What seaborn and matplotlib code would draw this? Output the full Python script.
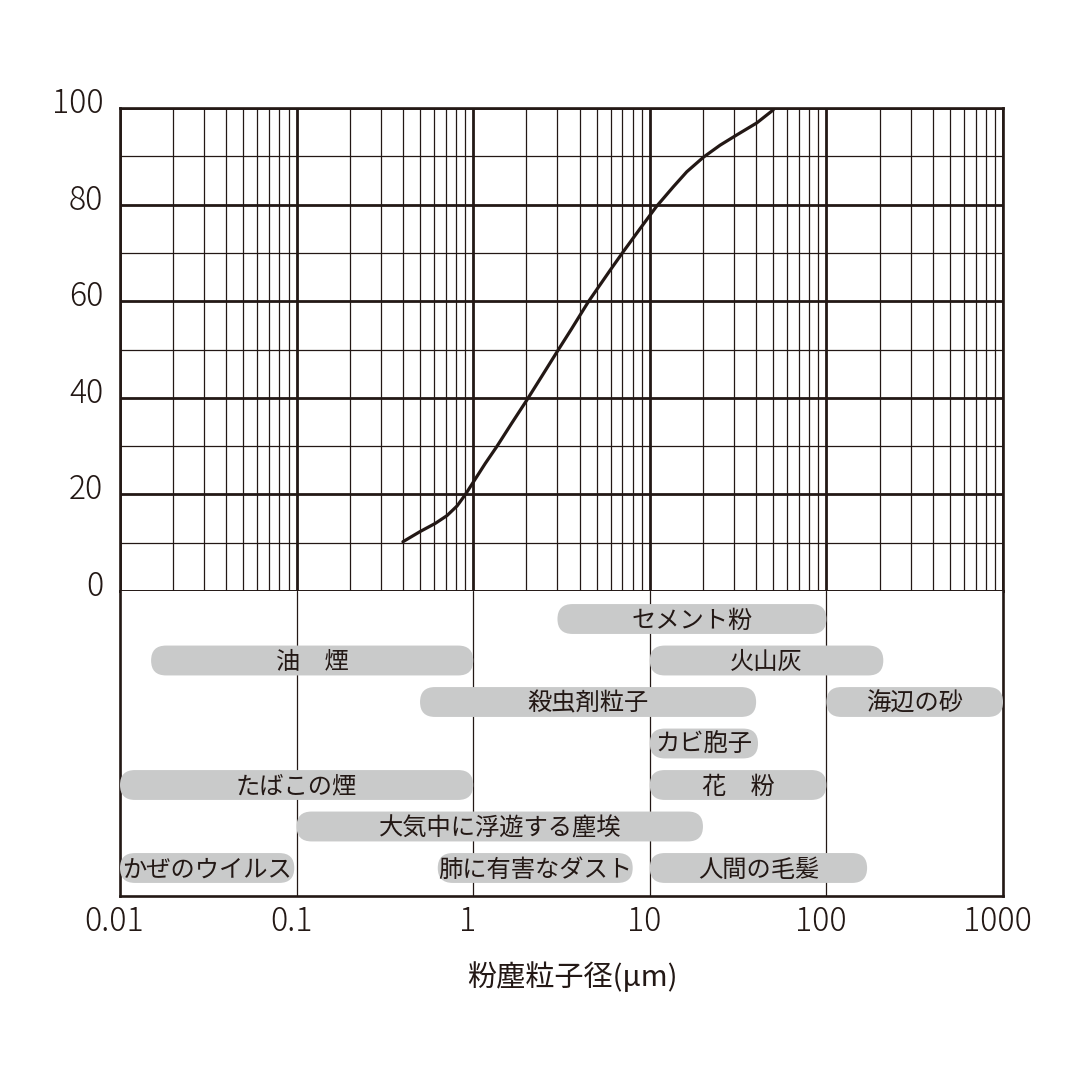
import numpy as np
import pandas as pd
import matplotlib
matplotlib.use('Agg')
import matplotlib.pyplot as plt
import seaborn as sns
from matplotlib.patches import FancyBboxPatch
from matplotlib.transforms import IdentityTransform, ScaledTranslation
from matplotlib.ticker import LogLocator, MultipleLocator, FixedLocator, NullFormatter

# ---- data ----
curve_size = [0.40, 0.50, 0.61, 0.71, 0.81, 0.90, 1.02, 1.17, 1.36, 1.65, 2.01,
              2.44, 3.04, 3.61, 4.49, 5.96, 7.09, 8.80, 10.9, 13.6, 16.2, 20.1,
              25.0, 31.0, 40.3, 50.0]
curve_pct = [10.2, 12.3, 14.0, 15.6, 17.6, 19.9, 23.0, 26.4, 29.9, 34.7, 39.5,
             44.4, 50.0, 54.3, 59.9, 66.4, 70.3, 75.0, 79.6, 83.7, 86.8, 89.8,
             92.3, 94.4, 96.9, 99.6]

bar_labels = ['セメント粉', '油　煙', '火山灰', '殺虫剤粒子', '海辺の砂', 'カビ胞子',
              'たばこの煙', '花　粉', '大気中に浮遊する塵埃', 'かぜのウイルス',
              '肺に有害なダスト', '人間の毛髪']
bar_start = [3, 0.015, 10, 0.5, 100, 10, 0.01, 10, 0.1, 0.01, 0.63, 10]
bar_end = [100, 1, 210, 40, 1000, 41, 1, 100, 20, 0.097, 8, 170]
bar_row = [0, 1, 1, 2, 2, 3, 4, 4, 5, 6, 6, 6]

x_ticks = [0.01, 0.1, 1, 10, 100, 1000]
x_tick_labels = ['0.01', '0.1', '1', '10', '100', '1000']
y_ticks = [0, 20, 40, 60, 80, 100]
y_tick_labels = ['0', '20', '40', '60', '80', '100']
x_label = '粉塵粒子径(μm)'

INK = '#231815'
PILL = '#c9caca'

sns.set_theme(style='white')
plt.rcParams['font.family'] = ['Noto Sans CJK JP', 'DejaVu Sans']

DPI = 100
fig = plt.figure(figsize=(10.8, 10.8), dpi=DPI)
W = H = 1080.0
L, R, T, Y0, B = 120, 1003, 108, 591, 896
ax = fig.add_axes([L / W, 1 - Y0 / H, (R - L) / W, (Y0 - T) / H])
axb = fig.add_axes([L / W, 1 - B / H, (R - L) / W, (B - Y0) / H], sharex=ax)

# ---- top panel ----
df = pd.DataFrame({'size': curve_size, 'pct': curve_pct})
sns.lineplot(data=df, x='size', y='pct', ax=ax, color=INK, lw=2.3, zorder=5,
             sort=False)
ax.set_xscale('log')
ax.set_xlim(x_ticks[0], x_ticks[-1])
ax.set_ylim(y_ticks[0], y_ticks[-1])
ax.xaxis.set_major_locator(FixedLocator(x_ticks))
ax.xaxis.set_minor_locator(LogLocator(base=10, subs=np.arange(2, 10)))
ax.yaxis.set_major_locator(FixedLocator(y_ticks))
ax.yaxis.set_minor_locator(MultipleLocator(10))
ax.grid(True, which='major', color=INK, lw=2.0)
ax.grid(True, which='minor', color=INK, lw=0.9)
ax.set_yticklabels(y_tick_labels)
ax.tick_params(axis='x', which='both', length=0, labelbottom=False)
ax.tick_params(axis='y', which='both', length=0, labelsize=23, pad=12, colors=INK)
off = ScaledTranslation(0, 6 / 72, fig.dpi_scale_trans)
for lab in ax.get_yticklabels():
    lab.set_transform(lab.get_transform() + off)
    lab.set_fontweight('light')
ax.set_xlabel('')
ax.set_ylabel('')
for s in ax.spines.values():
    s.set_color(INK)
    s.set_linewidth(1.9)

# ---- bottom panel ----
n_rows = max(bar_row) + 1
axb.set_xscale('log')
axb.set_xlim(x_ticks[0], x_ticks[-1])
axb.set_ylim(n_rows - 1 + 0.675, -0.675)
axb.xaxis.set_major_locator(FixedLocator(x_ticks))
axb.xaxis.set_minor_locator(LogLocator(base=10, subs=np.arange(2, 10)))
axb.xaxis.set_minor_formatter(NullFormatter())
axb.set_xticklabels(x_tick_labels)
axb.grid(True, which='major', axis='x', color=INK, lw=0.9)
axb.grid(False, which='minor')
axb.grid(False, axis='y')
axb.set_yticks([])
axb.tick_params(axis='x', which='both', length=0, labelsize=23, pad=6, colors=INK)
xoff = ScaledTranslation(-4 / 72, 0, fig.dpi_scale_trans)
for lab in axb.get_xticklabels():
    lab.set_fontweight('light')
    lab.set_transform(lab.get_transform() + xoff)
axb.set_xlabel(x_label, fontsize=21, color=INK, labelpad=17)
axb.xaxis.label.set_transform(axb.xaxis.label.get_transform()
                              + ScaledTranslation(8 / 72, 0, fig.dpi_scale_trans))
for s in axb.spines.values():
    s.set_color(INK)
    s.set_linewidth(1.9)
axb.spines['top'].set_visible(False)

bar_h = 0.72
fig.canvas.draw()
for lab, x0, x1, r in zip(bar_labels, bar_start, bar_end, bar_row):
    (dx0, dy0) = axb.transData.transform((x0, r + bar_h / 2))
    (dx1, dy1) = axb.transData.transform((x1, r - bar_h / 2))
    h = dy1 - dy0
    p = FancyBboxPatch((dx0, dy0), dx1 - dx0, h,
                       boxstyle=f'round,pad=0,rounding_size={h / 2}',
                       transform=IdentityTransform(), facecolor=PILL,
                       edgecolor='none', zorder=3, clip_on=False)
    axb.add_patch(p)
    xc = np.sqrt(x0 * x1)
    axb.text(xc, r + 0.04, lab, ha='center', va='center', fontsize=17.5,
             color=INK, zorder=4)

fig.savefig('out.png', dpi=DPI, facecolor='white')
